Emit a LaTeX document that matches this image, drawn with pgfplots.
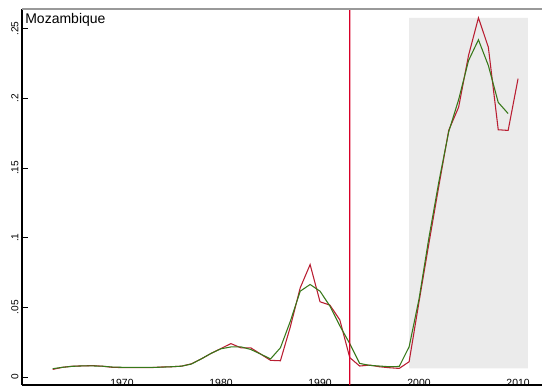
\documentclass[border=0pt]{standalone}
\usepackage{pgfplots}
\pgfplotsset{compat=1.18}
\usepackage{fontspec}
\setmainfont{Liberation Sans}
\definecolor{redline}{RGB}{185,30,50}
\definecolor{greenline}{RGB}{55,120,25}
\definecolor{crimsonv}{RGB}{215,0,40}
\definecolor{shade}{RGB}{235,235,235}
\begin{document}
\begin{tikzpicture}
\begin{axis}[
  width=390pt, height=282pt, scale only axis,
  xmin=1959.9, xmax=2012.42,
  ymin=-0.0057, ymax=0.264,
  axis x line=bottom, axis y line=left,
  axis line style={-, black, line width=0.8pt},
  xtick={1970,1980,1990,2000,2010},
  xticklabels={1970,1980,1990,2000,2010},
  ytick={0,0.05,0.1,0.15,0.2,0.25},
  yticklabels={0,.05,.1,.15,.2,.25},
  x tick style={draw=none},
  y tick style={black, line width=0.6pt},
  ytick align=inside,
  major tick length=4.5pt,
  xticklabel style={anchor=base, inner sep=0pt, yshift=1.2pt, font=\fontsize{7.8}{9}\selectfont},
  yticklabel style={rotate=90, anchor=south, inner sep=2.5pt, font=\fontsize{7.6}{9}\selectfont},
  clip=false,
]
\addplot[fill=shade, draw=none] coordinates {(1999,0.0062) (2011,0.0062) (2011,0.2577) (1999,0.2577) (1999,0.0062)};
\addplot[draw=redline, line width=0.8pt, mark=none] coordinates {
(1963,0.0055) (1964,0.0070) (1965,0.0078) (1966,0.0080) (1967,0.0082) (1968,0.0078)
(1969,0.0070) (1970,0.0068) (1971,0.0068) (1972,0.0068) (1973,0.0068) (1974,0.0072)
(1975,0.0074) (1976,0.0078) (1977,0.0095) (1978,0.0130) (1979,0.0170) (1980,0.0205)
(1981,0.0240) (1982,0.0210) (1983,0.0210) (1984,0.0165) (1985,0.0120) (1986,0.0117)
(1987,0.0360) (1988,0.0640) (1989,0.0807) (1990,0.0540) (1991,0.0516) (1992,0.0410)
(1993,0.0140) (1994,0.0079) (1995,0.0086) (1996,0.0074) (1997,0.0067) (1998,0.0062)
(1999,0.0110) (2000,0.0540) (2001,0.0960) (2002,0.1370) (2003,0.1770) (2004,0.1936)
(2005,0.2307) (2006,0.2577) (2007,0.2366) (2008,0.1774) (2009,0.1769) (2010,0.2140)
};
\addplot[draw=greenline, line width=0.8pt, mark=none] coordinates {
(1963,0.0060) (1964,0.0070) (1965,0.0077) (1966,0.0080) (1967,0.0080) (1968,0.0078)
(1969,0.0072) (1970,0.0070) (1971,0.0069) (1972,0.0069) (1973,0.0069) (1974,0.0071)
(1975,0.0074) (1976,0.0078) (1977,0.0093) (1978,0.0130) (1979,0.0170) (1980,0.0203)
(1981,0.0216) (1982,0.0217) (1983,0.0198) (1984,0.0165) (1985,0.0130) (1986,0.0210)
(1987,0.0400) (1988,0.0616) (1989,0.0664) (1990,0.0616) (1991,0.0509) (1992,0.0368)
(1993,0.0240) (1994,0.0098) (1995,0.0084) (1996,0.0079) (1997,0.0074) (1998,0.0076)
(1999,0.0217) (2000,0.0560) (2001,0.1000) (2002,0.1400) (2003,0.1760) (2004,0.1990)
(2005,0.2270) (2006,0.2419) (2007,0.2235) (2008,0.1970) (2009,0.1890)
};
\addplot[color=crimsonv, line width=1pt, mark=none] coordinates {(1993,-0.0057) (1993.0001,0.264)};
\draw[gray!80, line width=0.8pt] (rel axis cs:0,1) -- (rel axis cs:1,1);
\node[anchor=base west, inner sep=0pt, font=\fontsize{10.5}{12}\selectfont]
  at ([xshift=2.3pt, yshift=-10.7pt]rel axis cs:0,1) {Mozambique};
\coordinate (BL) at ([xshift=-16.5pt, yshift=-1.5pt]rel axis cs:0,0);
\coordinate (TR) at ([yshift=6.75pt]rel axis cs:1,1);
\end{axis}
\pgfresetboundingbox
\useasboundingbox (BL) rectangle (TR);
\end{tikzpicture}
\end{document}
